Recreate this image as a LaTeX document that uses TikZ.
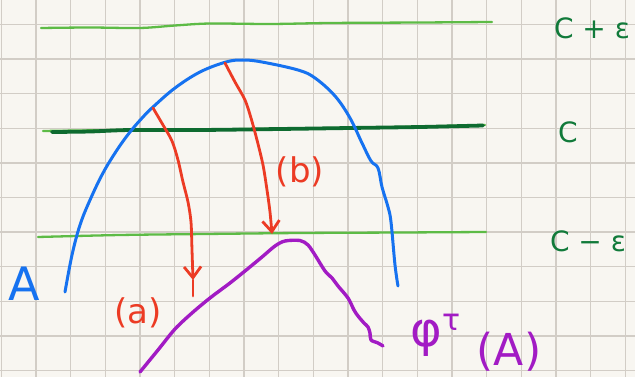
\documentclass[tikz,border=0pt]{standalone}
\usepackage{fontspec}
\setmainfont{DejaVu Sans}
\usetikzlibrary{arrows.meta}
\definecolor{paper}{HTML}{F8F6F1}
\definecolor{gridc}{HTML}{D2CDC6}
\definecolor{lgreen}{HTML}{5DBB46}
\definecolor{dgreen}{HTML}{0E6B30}
\definecolor{lblgreen}{HTML}{117A3A}
\definecolor{blueA}{HTML}{1672F0}
\definecolor{redA}{HTML}{EC3B24}
\definecolor{purp}{HTML}{A21BC4}
\tikzset{
  gridline/.style={gridc, line width=1.3pt},
  levelthin/.style={lgreen, line width=2.3pt, line cap=round},
  levelthick/.style={dgreen, line width=3.8pt, line cap=round},
  setcurve/.style={blueA, line width=3pt, line cap=round, line join=round},
  imgcurve/.style={purp, line width=3.4pt, line cap=round, line join=round},
  flow/.style={redA, line width=2.8pt, line cap=round, -{Straight Barb[length=11pt,width=17pt,line width=2.8pt]}},
  flowext/.style={redA, line width=2.8pt, line cap=round},
  greenlbl/.style={text=lblgreen, font=\fontsize{28}{28}\selectfont, inner sep=0pt},
  redlbl/.style={text=redA, font=\fontsize{34}{34}\selectfont, inner sep=0pt},
  purplbl/.style={text=purp, inner sep=0pt},
}
\begin{document}
\begin{tikzpicture}[x=1pt,y=-1pt]
\fill[paper] (0,0) rectangle (635,377);
\useasboundingbox (0,0) rectangle (635,377);
% grid
\foreach \i in {0,...,18} \draw[gridline] ({1.3+34.67*\i},0) -- ({1.3+34.67*\i},377);
\foreach \j in {0,...,10} \draw[gridline] (0,{24.5+34.6*\j}) -- (635,{24.5+34.6*\j});
% level lines
\draw[levelthin] plot[smooth] coordinates {(41,28) (90,27.5) (140,28) (175,25.5) (210,23.5) (270,24) (330,23) (420,22.5) (492,22)};
\draw[levelthin] plot[smooth] coordinates {(43,131) (120,130) (200,129.5) (300,128.5) (400,127) (485,125)};
\draw[levelthick] plot[smooth] coordinates {(52,132) (90,131.5) (130,130) (200,130) (280,129) (350,128) (420,127) (483,125.5)};
\draw[levelthin] plot[smooth] coordinates {(38,237) (120,235) (205,234) (300,233) (400,232.5) (486,232)};
% labels right
\node[greenlbl] (cpe) at (592,28) {C + ε};
\node[greenlbl] (cc) at (568,132) {C};
\node[greenlbl] (cme) at (588,241) {C − ε};
% blue set A
\draw[setcurve] plot[smooth, tension=0.6] coordinates {(65,292) (72,255) (80,225) (90,200) (103,173) (117,150) (130,132) (143,117) (153,107) (175,88) (200,72) (226,62) (243,60) (262,62) (298,70) (315,78) (335,96) (350,118) (362,143) (371,161) (378,168) (382,187) (388,207) (391,222) (395,265) (398,286)};
\node[text=blueA, font=\fontsize{46}{46}\selectfont, inner sep=0pt] (A) at (24,284) {A};
% purple image
\draw[imgcurve] plot[smooth, tension=0.5] coordinates {(140,372) (158,350) (175,329) (192,313) (210,298) (230,283) (245,271) (262,257) (275,246) (285,241) (300,240.5) (308,245) (315,255) (325,271) (332,278) (338,286) (348,298) (354,310) (358,316) (364,323) (368,327) (370,333) (371,340) (378,343) (383,346)};
\node[purplbl, font=\fontsize{48}{48}\selectfont] (phi) at (426,338) {φ};
\node[purplbl, font=\fontsize{30}{30}\selectfont] (tau) at (452,322) {τ};
\node[purplbl, font=\fontsize{44}{44}\selectfont] (pA) at (509,352) {(A)};
% red flow arrows
\coordinate (a0) at (153,108);
\coordinate (a1) at (193,280);
\coordinate (a2) at (193,296);
\coordinate (b0) at (225,63);
\coordinate (b1) at (272,234);
\draw[flow] plot[smooth] coordinates {(a0) (163,125) (172,141) (178,160) (183,182) (188,202) (191,222) (192,250) (a1)};
\draw[flowext] (a1) -- (a2);
\draw[flow] plot[smooth] coordinates {(b0) (235,82) (245,100) (251,118) (257,140) (263,165) (267,190) (270,212) (b1)};
\node[redlbl] (la) at (138,313) {(a)};
\node[redlbl] (lb) at (300,172) {(b)};
\end{tikzpicture}
\end{document}
